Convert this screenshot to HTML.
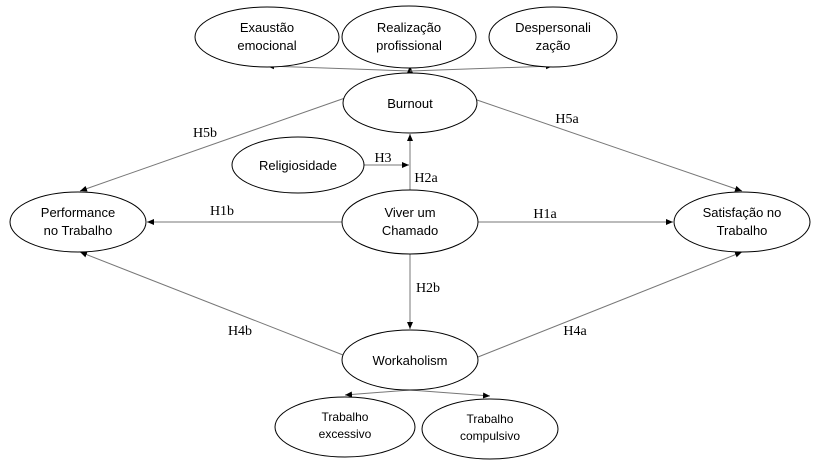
<!DOCTYPE html>
<html><head><meta charset="utf-8"><style>body{margin:0;background:#fff}svg{display:block}</style></head><body>
<svg width="828" height="465" viewBox="0 0 828 465" xmlns="http://www.w3.org/2000/svg">
<defs><marker id="a" markerWidth="8" markerHeight="8" refX="7" refY="4" orient="auto" markerUnits="userSpaceOnUse"><path d="M0,1 L7,4 L0,7 z" fill="#000"/></marker></defs>
<g stroke="#777" stroke-width="1" fill="none" marker-end="url(#a)">
<line x1="410" y1="71" x2="267" y2="66"/>
<line x1="410" y1="71" x2="410" y2="66"/>
<line x1="410" y1="71" x2="553" y2="66"/>
<line x1="345" y1="98" x2="80" y2="191"/>
<line x1="477" y1="100" x2="742" y2="191"/>
<line x1="364" y1="165" x2="409" y2="165"/>
<line x1="410" y1="190" x2="410" y2="134"/>
<line x1="342" y1="222" x2="147" y2="222"/>
<line x1="478" y1="222" x2="673" y2="222"/>
<line x1="410" y1="254" x2="410" y2="329"/>
<line x1="343" y1="355" x2="80" y2="252"/>
<line x1="478" y1="357" x2="742" y2="252"/>
<line x1="410" y1="390" x2="345" y2="395"/>
<line x1="410" y1="390" x2="490" y2="396"/>
</g>
<g fill="#fff" stroke="#000" stroke-width="1">
<ellipse cx="267" cy="37" rx="72" ry="30"/>
<ellipse cx="409" cy="37" rx="67" ry="31"/>
<ellipse cx="553" cy="37" rx="64" ry="30"/>
<ellipse cx="410" cy="103" rx="67" ry="30"/>
<ellipse cx="298" cy="165" rx="66" ry="28"/>
<ellipse cx="78" cy="222" rx="68" ry="30"/>
<ellipse cx="410" cy="222" rx="68" ry="32"/>
<ellipse cx="742" cy="222" rx="68" ry="30"/>
<ellipse cx="410" cy="360" rx="68" ry="30"/>
<ellipse cx="345" cy="427" rx="70" ry="30"/>
<ellipse cx="490" cy="429" rx="68" ry="30"/>
</g>
<g font-family="'Liberation Sans',sans-serif" font-size="13" text-anchor="middle" fill="#000">
<text x="267" y="32">Exaustão</text><text x="267" y="50">emocional</text>
<text x="409" y="32">Realização</text><text x="409" y="50">profissional</text>
<text x="553" y="32">Despersonali</text><text x="553" y="50">zação</text>
<text x="410" y="108">Burnout</text>
<text x="298" y="170">Religiosidade</text>
<text x="78" y="217">Performance</text><text x="78" y="235">no Trabalho</text>
<text x="410" y="217">Viver um</text><text x="410" y="235">Chamado</text>
<text x="742" y="217">Satisfação no</text><text x="742" y="235">Trabalho</text>
<text x="410" y="365">Workaholism</text>
<text x="345" y="421" font-size="12">Trabalho</text><text x="345" y="438" font-size="12">excessivo</text>
<text x="490" y="423" font-size="12">Trabalho</text><text x="490" y="440" font-size="12">compulsivo</text>
</g>
<g font-family="'Liberation Serif',serif" font-size="14" text-anchor="middle" fill="#000">
<text x="205" y="137">H5b</text>
<text x="567" y="123">H5a</text>
<text x="383" y="162">H3</text>
<text x="426" y="182">H2a</text>
<text x="222" y="215">H1b</text>
<text x="545" y="218">H1a</text>
<text x="428" y="292">H2b</text>
<text x="240" y="335">H4b</text>
<text x="575" y="335">H4a</text>
</g>
</svg>
</body></html>
